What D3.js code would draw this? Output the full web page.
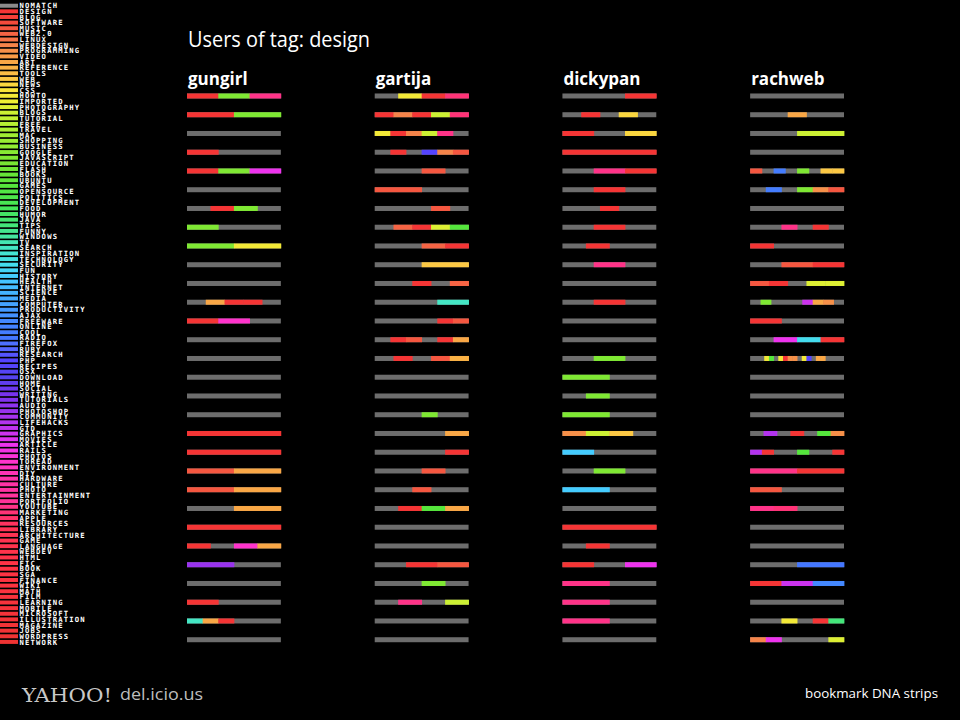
<!DOCTYPE html>
<html>
<head>
<meta charset="utf-8">
<script src="https://cdn.jsdelivr.net/npm/d3@7"></script>
<style>
  html, body { margin: 0; padding: 0; background: #000; }
  svg { display: block; }
</style>
</head>
<body>
<svg id="chart" width="960" height="720"></svg>
<script>
// ---------- DATA ----------
const tags = ["nomatch","design","blog","software","music","web2.0","linux","webdesign","programming","video",
  "art","reference","tools","web","news","css","howto","imported","photography","blogs",
  "tutorial","free","travel","mac","shopping","business","google","javascript","education","flash",
  "books","ubuntu","games","opensource","politics","development","food","humor","java","tips",
  "funny","windows","tv","search","inspiration","technology","security","fun","history","health",
  "internet","science","media","computer","productivity","ajax","freeware","online","cool","radio",
  "firefox","ruby","research","php","recipes","osx","download","home","social","writing",
  "tutorials","audio","photoshop","community","lifehacks","gtd","graphics","movies","article","rails",
  "photos","toread","environment","diy","hardware","culture","photo","entertainment","portfolio","youtube",
  "marketing","apple","resources","library","architecture","game","language","webdev","html","fic",
  "book","sga","finance","wiki","math","film","learning","mobile","microsoft","illustration",
  "magazine","jobs","wordpress","network"];

const users = ["gungirl","gartija","dickypan","rachweb"];

// each strip = one bookmark; its tags in order ("-" = tag outside the list)
const gungirlStrips = [
  "design javascript youtube", "design javascript", "-", "design - -", "design javascript article",
  "-", "- design javascript -", "javascript - -", "javascript howto", "-",
  "-", "- art design design -", "design toread -", "-", "-",
  "-", "-", "-", "design", "design",
  "music art", "music art", "- art", "design", "design - toread art",
  "photoshop -", "-", "design - -", "search art design - - -", "-"
];
const gartijaStrips = [
  "- howto design marketing", "design webdesign design blogs marketing", "howto design webdesign blogs youtube -",
  "- design - php webdesign music", "- - music -",
  "music -", "- - - music -", "- web2.0 design photography games", "- - web2.0 design", "- web",
  "- - design - web2.0", "- - search", "- - - - design music", "- design music - design art", "- design - music reference",
  "-", "-", "- - - javascript - -", "- - - art", "- - - design",
  "- - music -", "- - music - -", "- design games art", "-", "-",
  "- design music", "- - javascript -", "- youtube - blogs", "-", "-"
];
const dickypanStrips = [
  "- - design", "- design - news -", "design - news", "design", "- youtube design",
  "- design -", "- - design - -", "- design -", "- design - -", "- youtube -",
  "-", "- design -", "-", "-", "- javascript -",
  "javascript -", "- javascript - -", "javascript -", "programming blogs web -", "history - -",
  "- javascript -", "history -", "-", "design", "- design - -",
  "design - article", "youtube -", "youtube -", "youtube -", "-"
];
const rachwebStrips = [
  "-", "- - art - -", "- blogs", "-", "music - cool - javascript - web web",
  "- cool - javascript programming music", "-", "- - youtube - design -", "design - - -", "- music design",
  "music design - photography photography", "- javascript - - - graphics art programming -", "design - -",
  "- article security design",
  "- - - howto games - howto design programming programming - howto php - art art - - - -",
  "-", "-", "-", "- lifehacks - design - games programming", "lifehacks design - - games - - design",
  "youtube design", "music - -", "youtube marketing - -", "-", "-",
  "- radio", "design graphics freeware", "-", "- - howto - design tips", "webdesign article - - - photography"
];

const stripsByUser = {gungirl: gungirlStrips, gartija: gartijaStrips, dickypan: dickypanStrips, rachweb: rachwebStrips};

// ---------- COLOURS ----------
const anchorIdx = [1, 3, 5, 7, 10, 13, 15, 17, 19, 23, 28, 32, 36, 39, 43, 46, 48, 52, 56, 59, 61, 63, 66, 69, 72, 76, 78, 81, 84, 88, 90, 93, 100, 113];
const anchorCol = ["#f53535","#f44a3c","#f66444","#f5844a","#f9a746","#fcc844","#f8e43a","#eeee33","#ccf033","#a0ee33",
  "#77e633","#55e63c","#44e65a","#44e67a","#44e6c4","#44dcee","#44ccff","#44aaff","#4488ff","#4477ff",
  "#5566ff","#5544ff","#5544ee","#7733ee","#9933ee","#cc33ee","#ee33ee","#ff33cc","#ff33aa","#ff3399",
  "#ff3377","#ff3355","#ff3344","#ee3333"];
const hue = d3.scaleLinear().domain(anchorIdx).range(anchorCol).interpolate(d3.interpolateRgb).clamp(true);
const tagIndex = new Map(tags.map((t, i) => [t, i]));
const colorOf = t => (t === "-" || t === "nomatch") ? null : hue(tagIndex.get(t));
const STRIP_GRAY = "#6d6d6d";

// ---------- DRAW ----------
const svg = d3.select("#chart");
svg.append("rect").attr("width", 960).attr("height", 720).attr("fill", "#000");

// tag legend on the left
const yTag = d3.scaleBand().domain(tags).range([2.9, 2.9 + tags.length * 5.63]);
const legend = svg.append("g");
legend.selectAll("rect").data(tags).join("rect")
  .attr("x", 0).attr("width", 18)
  .attr("y", d => yTag(d) + yTag.bandwidth() / 2 - 2)
  .attr("height", 4)
  .attr("fill", d => d === "nomatch" ? "#8a8a8a" : hue(tagIndex.get(d)));
legend.selectAll("text").data(tags).join("text")
  .attr("x", 19.5)
  .attr("y", d => yTag(d) + yTag.bandwidth() / 2 + 2.6)
  .attr("fill", "#fff")
  .attr("font-family", "DejaVu Sans Mono")
  .attr("font-weight", "bold")
  .attr("font-size", 7.2)
  .attr("letter-spacing", 1.2)
  .text(d => d.toUpperCase());

// title
svg.append("text")
  .attr("x", 188).attr("y", 47)
  .attr("fill", "#fff")
  .attr("font-family", "Open Sans")
  .attr("font-size", 22)
  .attr("textLength", 182).attr("lengthAdjust", "spacingAndGlyphs")
  .text("Users of tag: design");

// columns
const xUser = d3.scaleBand().domain(users).range([187, 844]).paddingInner(0.5).paddingOuter(0);
const rowIdx = d3.range(30);
const yRow = d3.scaleBand().domain(rowIdx).range([86.6, 86.6 + 30 * 18.75]);
const STRIP_H = 5;

users.forEach(u => {
  const x0 = xUser(u), bw = xUser.bandwidth();
  const g = svg.append("g");
  g.append("text")
    .attr("x", x0 + 1).attr("y", 85)
    .attr("fill", "#fff")
    .attr("font-family", "Open Sans")
    .attr("font-weight", "bold")
    .attr("font-size", 17)
    .text(u);

  const strips = stripsByUser[u].map((s, i) => ({row: i, tags: s.split(" ")}));
  const rows = g.selectAll("g.strip").data(strips).join("g").attr("class", "strip")
    .attr("transform", d => `translate(0,${yRow(d.row) + yRow.bandwidth() / 2 - STRIP_H / 2})`);
  rows.append("rect")
    .attr("x", x0).attr("width", bw).attr("height", STRIP_H).attr("fill", STRIP_GRAY);
  rows.each(function(d) {
    const xs = d3.scaleLinear().domain([0, d.tags.length]).range([x0, x0 + bw]);
    d3.select(this).selectAll("rect.seg")
      .data(d.tags.map((t, k) => ({t, k})).filter(e => colorOf(e.t)))
      .join("rect").attr("class", "seg")
      .attr("x", e => xs(e.k))
      .attr("width", e => xs(e.k + 1) - xs(e.k) + 0.4)
      .attr("height", STRIP_H)
      .attr("fill", e => colorOf(e.t));
  });
});

// footer
svg.append("text")
  .attr("x", 22).attr("y", 702)
  .attr("fill", "#c8c8c8")
  .attr("font-family", "DejaVu Serif")
  .attr("font-size", 19)
  .attr("textLength", 90).attr("lengthAdjust", "spacingAndGlyphs")
  .text("YAHOO!");
svg.append("text")
  .attr("x", 120).attr("y", 700)
  .attr("fill", "#bdbdbd")
  .attr("font-family", "Open Sans")
  .attr("font-size", 16)
  .attr("textLength", 83).attr("lengthAdjust", "spacingAndGlyphs")
  .text("del.icio.us");
svg.append("text")
  .attr("x", 938).attr("y", 698)
  .attr("text-anchor", "end")
  .attr("fill", "#fff")
  .attr("font-family", "Open Sans")
  .attr("font-size", 13)
  .attr("textLength", 133).attr("lengthAdjust", "spacingAndGlyphs")
  .text("bookmark DNA strips");
</script>
</body>
</html>
